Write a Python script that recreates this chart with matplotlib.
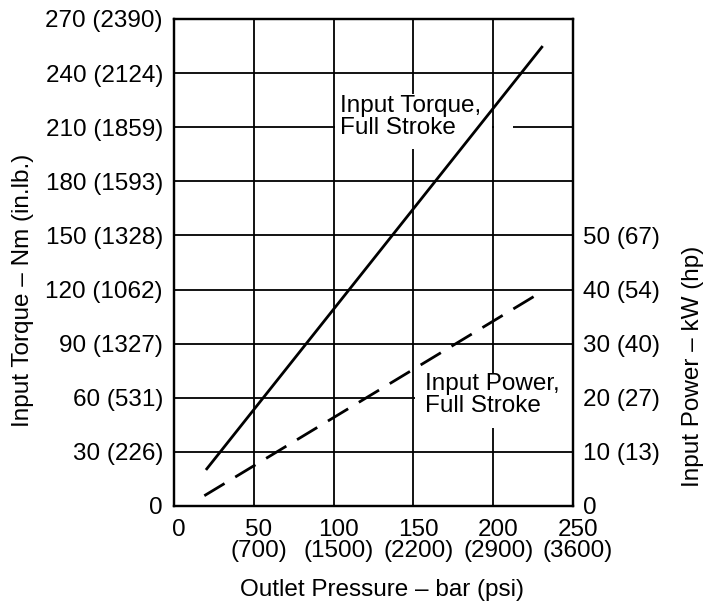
import matplotlib
matplotlib.use("Agg")
import matplotlib.pyplot as plt
from matplotlib.patches import Rectangle
import matplotlib.transforms as mtransforms

plt.rcParams['font.family'] = ['Liberation Sans', 'DejaVu Sans']

# ---- data ----
pressure_torque = [20, 231]      # bar
torque_nm = [20, 255]            # Nm
pressure_power = [19, 231]       # bar
power_kw = [1.9, 39.7]           # kW

x_ticks = [0, 50, 100, 150, 200, 250]
x_tick_labels = ["0", "50\n(700)", "100\n(1500)", "150\n(2200)", "200\n(2900)", "250\n(3600)"]
y_left_ticks = [0, 30, 60, 90, 120, 150, 180, 210, 240, 270]
y_left_labels = ["0", "30 (226)", "60 (531)", "90 (1327)", "120 (1062)", "150 (1328)",
                 "180 (1593)", "210 (1859)", "240 (2124)", "270 (2390)"]
y_right_ticks = [0, 10, 20, 30, 40, 50]
y_right_labels = ["0", "10 (13)", "20 (27)", "30 (40)", "40 (54)", "50 (67)"]

FS = 17.5
W, H = 719, 608
fig = plt.figure(figsize=(W / 100, H / 100), dpi=100)
L, R, T, B = 174, 573, 19, 506
ax = fig.add_axes([L / W, 1 - B / H, (R - L) / W, (B - T) / H])
ax.set_xlim(0, 250)
ax.set_ylim(0, 270)

# grid lines
for v in x_ticks[1:-1]:
    ax.axvline(v, color='black', lw=1.3, zorder=1)
for h in y_left_ticks[1:-1]:
    ax.axhline(h, color='black', lw=1.3, zorder=1)

# white masks behind annotations
ax.add_patch(Rectangle((100.7, 198.0), 98.6, 30.5, facecolor='white', edgecolor='none', zorder=2))
ax.add_patch(Rectangle((200.7, 198.0), 11.4, 30.5, facecolor='white', edgecolor='none', zorder=2))
ax.add_patch(Rectangle((151, 43.5), 99, 29.5, facecolor='white', edgecolor='none', zorder=2))

ax.plot(pressure_torque, torque_nm, color='black', lw=2.0, zorder=3, solid_capstyle='butt')

ax.text(104, 228, "Input Torque,\nFull Stroke", fontsize=FS, ha='left', va='top',
        linespacing=1.0, zorder=4)
ax.text(157.5, 74, "Input Power,\nFull Stroke", fontsize=FS, ha='left', va='top',
        linespacing=1.0, zorder=4)

ax.set_xticks(x_ticks)
ax.set_xticklabels(x_tick_labels, fontsize=FS, linespacing=0.95)
ax.set_yticks(y_left_ticks)
ax.set_yticklabels(y_left_labels, fontsize=FS)
ax.tick_params(axis='both', length=0)
ax.tick_params(axis='x', pad=9)
ax.tick_params(axis='y', pad=8)
offset = mtransforms.ScaledTranslation(0.05, 0, fig.dpi_scale_trans)
for lab in ax.get_xticklabels():
    lab.set_transform(lab.get_transform() + offset)
for s in ax.spines.values():
    s.set_linewidth(1.6)

ax2 = ax.twinx()
ax2.set_ylim(0, 90)
ax2.plot(pressure_power, power_kw, color='black', lw=2.0, linestyle=(0, (8.5, 4.5)), zorder=3)
ax2.set_yticks(y_right_ticks)
ax2.set_yticklabels(y_right_labels, fontsize=FS)
ax2.tick_params(axis='y', length=0, pad=7)
for s in ax2.spines.values():
    s.set_linewidth(1.6)

fig.text(381.5 / W, 1 - 590 / H, "Outlet Pressure – bar (psi)", fontsize=FS, ha='center', va='center')
fig.text(23 / W, 1 - 290 / H, "Input Torque – Nm (in.lb.)", fontsize=FS, ha='center', va='center', rotation=90)
fig.text(693 / W, 1 - 366 / H, "Input Power – kW (hp)", fontsize=FS, ha='center', va='center', rotation=90)

fig.savefig("out.png", dpi=100)
